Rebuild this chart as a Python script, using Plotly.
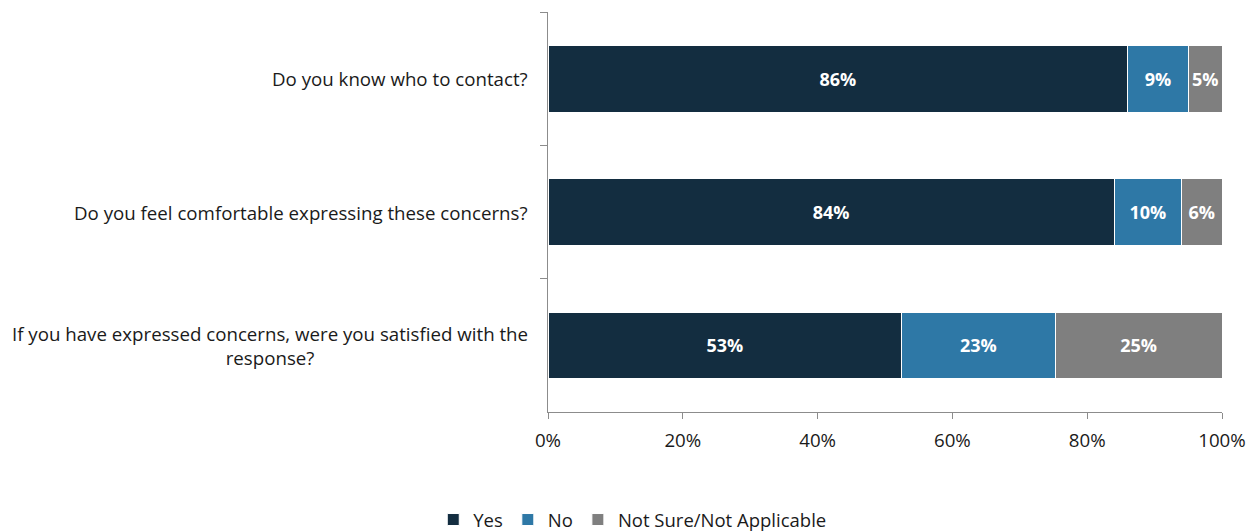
import plotly.graph_objects as go

questions = [
    "Do you know who to contact?",
    "Do you feel comfortable expressing these concerns?",
    "If you have expressed concerns, were you satisfied with the<br>response?",
]
yes_vals = [86, 84, 53]
no_vals = [9, 10, 23]
unsure_vals = [5, 6, 25]
series_names = ["Yes", "No", "Not Sure/Not Applicable"]
colors = ["#132d40", "#2e78a6", "#7f7f7f"]
x_ticks = [0, 20, 40, 60, 80, 100]
x_tick_labels = ["0%", "20%", "40%", "60%", "80%", "100%"]

FONT = "Open Sans"
TXT = 18.7
axis_gray = "#8c8c8c"

fig = go.Figure()
for name, vals, col in zip(series_names, [yes_vals, no_vals, unsure_vals], colors):
    fig.add_trace(go.Bar(
        y=questions,
        x=vals,
        name=name,
        orientation="h",
        marker=dict(color=col, line=dict(color="white", width=1)),
        text=[f"{v}%" for v in vals],
        textposition="inside",
        insidetextanchor="middle",
        textangle=0,
        textfont=dict(family=FONT, size=18, color="white", weight="bold"),
        width=0.5,
        hoverinfo="skip",
    ))

# category labels, centred when wrapped
for q in questions:
    fig.add_annotation(
        x=0, xref="paper", y=q, yref="y",
        text=q, showarrow=False, xanchor="right", yanchor="middle",
        xshift=-18, align="center",
        font=dict(family=FONT, size=TXT, color="#1a1a1a"),
    )

fig.update_layout(
    barmode="stack",
    barnorm="percent",
    width=1258, height=532,
    margin=dict(l=548, r=36, t=12, b=120, autoexpand=False),
    paper_bgcolor="white",
    plot_bgcolor="white",
    font=dict(family=FONT, size=TXT, color="#1a1a1a"),
    uniformtext=dict(minsize=10, mode="show"),
    legend=dict(
        orientation="h",
        x=0.125, xanchor="center",
        y=-0.27, yanchor="middle",
        font=dict(family=FONT, size=18.5, color="#1a1a1a"),
        traceorder="normal",
        itemwidth=30,
    ),
    xaxis=dict(
        range=[0, 100],
        tickvals=x_ticks,
        ticktext=x_tick_labels,
        showgrid=False,
        zeroline=False,
        showline=True,
        linecolor=axis_gray,
        linewidth=1,
        ticks="outside",
        ticklen=6,
        tickcolor=axis_gray,
        ticklabelstandoff=6,
        tickfont=dict(family=FONT, size=TXT, color="#1a1a1a"),
        fixedrange=True,
    ),
    yaxis=dict(
        autorange="reversed",
        showticklabels=False,
        showgrid=False,
        zeroline=False,
        showline=True,
        linecolor=axis_gray,
        linewidth=1,
        ticks="outside",
        tickson="boundaries",
        ticklen=7,
        tickcolor=axis_gray,
        fixedrange=True,
    ),
    showlegend=True,
)

fig.write_html("out.html")
